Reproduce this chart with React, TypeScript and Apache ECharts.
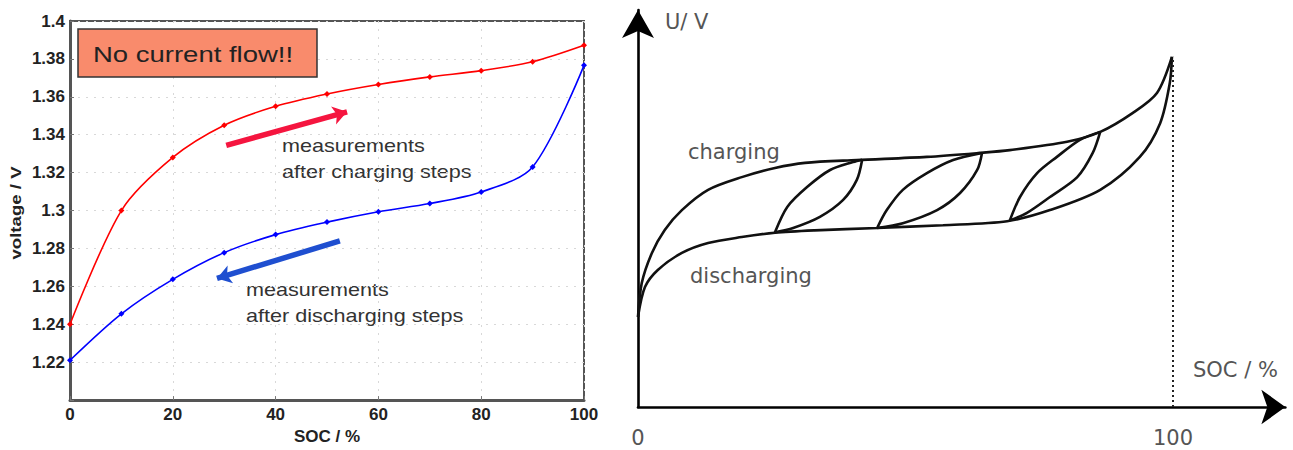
import React, { useEffect, useRef } from "react";
import * as echarts from "echarts";

// ---- Left chart: measured open-circuit voltage ----
const SOC = [0, 10, 20, 30, 40, 50, 60, 70, 80, 90, 100];
const CHARGE_V = [1.24, 1.3, 1.328, 1.345, 1.355, 1.3615, 1.3665, 1.3705, 1.3738, 1.3785, 1.3872];
const DISCHARGE_V = [1.221, 1.2455, 1.2637, 1.2778, 1.2873, 1.2939, 1.2994, 1.3037, 1.3098, 1.323, 1.3766];
const CHARGE_ARROW = [[30.4, 1.3344], [53.9, 1.3521]];
const DISCHARGE_ARROW = [[52.5, 1.284], [28.6, 1.2642]];
const Y_MIN = 1.2;
const Y_MAX = 1.4;
const Y_STEP = 0.02;
const X_STEP = 20;

// ---- Right chart: schematic hysteresis (arbitrary units) ----
const SCHEM_CHARGE = [
  [0, 22.7], [0.7, 31.2], [2.6, 38.8], [5.0, 44.6], [8.2, 49.6], [13.1, 54.7], [19.4, 57.9],
  [25.6, 60.2], [31.2, 61.5], [40.9, 62.2], [54.0, 63.0], [63.9, 64.0], [69.5, 64.7],
  [80.2, 66.8], [86.4, 69.3], [92.5, 74.1], [97.0, 79.1], [99.8, 88.2],
];
const SCHEM_DISCHARGE = [
  [0, 22.7], [1.3, 30.2], [3.7, 34.5], [8.2, 38.8], [13.1, 41.3], [19.4, 42.8], [25.6, 43.9],
  [33.0, 44.5], [44.7, 45.1], [57.0, 45.8], [69.0, 46.8], [77.0, 49.6], [86.4, 54.7],
  [93.8, 63.0], [97.6, 71.5], [99.4, 81.6], [99.8, 88.2],
];
const LOOP1_UP = [[25.6, 44.0], [27.9, 50.4], [31.6, 55.4], [35.9, 59.7], [40.2, 61.7], [41.9, 62.3]];
const LOOP1_DOWN = [[41.9, 62.3], [40.9, 57.2], [38.3, 52.1], [34.0, 47.9], [29.0, 45.1], [25.6, 44.0]];
const LOOP2_UP = [[44.7, 45.1], [46.5, 49.6], [49.5, 54.7], [54.0, 58.9], [58.9, 62.2], [64.3, 64.0]];
const LOOP2_DOWN = [[64.3, 64.0], [63.4, 59.7], [60.2, 53.9], [55.9, 49.6], [49.5, 46.3], [44.7, 45.1]];
const LOOP3_UP = [[69.5, 47.0], [71.4, 52.9], [74.6, 58.9], [78.3, 63.0], [82.6, 67.3], [86.4, 69.3]];
const LOOP3_DOWN = [[86.4, 69.3], [85.0, 64.0], [82.1, 57.9], [77.0, 52.9], [72.7, 48.9], [69.5, 47.0]];
const SCHEM_X_MAX = 121;
const SCHEM_Y_MAX = 100;
const SCHEM_TICKS = [0, 100];
const PEAK_U = 88.2;

const LEFT_FONT = "Liberation Sans";
const RIGHT_FONT = "DejaVu Sans";

export default function App() {
  const ref = useRef<HTMLDivElement>(null);

  useEffect(() => {
    if (!ref.current) return;
    const chart = echarts.init(ref.current, null, { renderer: "svg" });

    const schemLine = (data: number[][]) => ({
      type: "line",
      xAxisIndex: 1,
      yAxisIndex: 1,
      data,
      smooth: 0.3,
      showSymbol: false,
      symbol: "none",
      lineStyle: { color: "#111", width: 2.6 },
      silent: true,
      z: 3,
    });

    const option: any = {
      animation: false,
      backgroundColor: "#ffffff",
      grid: [
        { left: 70, top: 21, width: 514, height: 385, show: true, borderColor: "#555", borderWidth: 2, containLabel: false },
        { left: 638, top: 407 - SCHEM_Y_MAX * 3.97, width: SCHEM_X_MAX * 5.35, height: SCHEM_Y_MAX * 3.97, containLabel: false },
      ],
      xAxis: [
        {
          type: "value",
          gridIndex: 0,
          min: 0,
          max: 100,
          interval: X_STEP,
          name: "SOC / %",
          nameLocation: "middle",
          nameGap: 24,
          nameTextStyle: { fontSize: 17, fontWeight: "bold", color: "#222", fontFamily: LEFT_FONT },
          axisLine: { lineStyle: { color: "#555", width: 3 } },
          axisTick: { inside: true, length: 4, lineStyle: { color: "#777" } },
          axisLabel: { fontSize: 17, fontWeight: "bold", color: "#222", fontFamily: LEFT_FONT, margin: 6 },
          splitLine: { show: true, lineStyle: { color: "#d8d8d8", type: [2, 6], width: 1 } },
        },
        {
          type: "value",
          gridIndex: 1,
          min: 0,
          max: SCHEM_X_MAX,
          interval: 100,
          axisLine: {
            lineStyle: { color: "#000", width: 2.6 },
            symbol: ["none", "arrow"],
            symbolSize: [26, 24],
          },
          axisTick: { show: false },
          splitLine: { show: false },
          axisLabel: {
            formatter: (v: number) => (SCHEM_TICKS.indexOf(v) >= 0 ? String(v) : ""),
            fontSize: 21,
            color: "#555",
            fontFamily: RIGHT_FONT,
            margin: 20,
          },
        },
      ],
      yAxis: [
        {
          type: "value",
          gridIndex: 0,
          min: Y_MIN,
          max: Y_MAX,
          interval: Y_STEP,
          axisLine: { show: true, lineStyle: { color: "#555", width: 3 } },
          axisTick: { show: true, inside: true, length: 4, lineStyle: { color: "#777" } },
          axisLabel: {
            fontSize: 17,
            fontWeight: "bold",
            color: "#222",
            fontFamily: LEFT_FONT,
            margin: 5,
            formatter: (v: number) => (Math.abs(v - Y_MIN) < 1e-9 ? "" : String(parseFloat(v.toFixed(2)))),
          },
          splitLine: { show: true, lineStyle: { color: "#d8d8d8", type: [2, 6], width: 1 } },
        },
        {
          type: "value",
          gridIndex: 1,
          min: 0,
          max: SCHEM_Y_MAX,
          axisLine: {
            show: true,
            lineStyle: { color: "#000", width: 2.6 },
            symbol: ["none", "arrow"],
            symbolSize: [24, 28],
          },
          axisTick: { show: false },
          axisLabel: { show: false },
          splitLine: { show: false },
        },
      ],
      series: [
        {
          type: "line",
          xAxisIndex: 0,
          yAxisIndex: 0,
          data: SOC.map((s, i) => [s, CHARGE_V[i]]),
          smooth: 0.3,
          symbol: "diamond",
          symbolSize: 6,
          itemStyle: { color: "#ff0000" },
          lineStyle: { color: "#ff0000", width: 1.6 },
          z: 3,
        },
        {
          type: "line",
          xAxisIndex: 0,
          yAxisIndex: 0,
          data: SOC.map((s, i) => [s, DISCHARGE_V[i]]),
          smooth: 0.3,
          symbol: "diamond",
          symbolSize: 6,
          itemStyle: { color: "#0000ff" },
          lineStyle: { color: "#0000ff", width: 1.6 },
          z: 3,
        },
        {
          type: "lines",
          coordinateSystem: "cartesian2d",
          xAxisIndex: 0,
          yAxisIndex: 0,
          symbol: ["none", "arrow"],
          symbolSize: [14, 14],
          lineStyle: { color: "#f5153f", width: 5.5, opacity: 1, curveness: 0 },
          data: [{ coords: CHARGE_ARROW }],
          silent: true,
          z: 4,
        },
        {
          type: "lines",
          coordinateSystem: "cartesian2d",
          xAxisIndex: 0,
          yAxisIndex: 0,
          symbol: ["none", "arrow"],
          symbolSize: [14, 14],
          lineStyle: { color: "#1f4fd0", width: 5.5, opacity: 1, curveness: 0 },
          data: [{ coords: DISCHARGE_ARROW }],
          silent: true,
          z: 4,
        },
        {
          ...schemLine(SCHEM_CHARGE),
          markLine: {
            silent: true,
            symbol: ["none", "none"],
            label: { show: false },
            lineStyle: { color: "#222", type: [2, 3], width: 2 },
            data: [[{ coord: [100, 0] }, { coord: [100, PEAK_U] }]],
          },
        },
        schemLine(SCHEM_DISCHARGE),
        schemLine(LOOP1_UP),
        schemLine(LOOP1_DOWN),
        schemLine(LOOP2_UP),
        schemLine(LOOP2_DOWN),
        schemLine(LOOP3_UP),
        schemLine(LOOP3_DOWN),
      ],
      graphic: [
        {
          type: "rect",
          shape: { x: 78, y: 29, width: 239, height: 48 },
          style: { fill: "#f98b6c", stroke: "#333", lineWidth: 1.5 },
          z: 10,
        },
        {
          type: "text",
          x: 93,
          y: 54,
          scaleX: 1.25,
          style: { text: "No current flow!!", fontSize: 22, fontFamily: LEFT_FONT, fill: "#222", align: "left", verticalAlign: "middle" },
          z: 11,
        },
        {
          type: "text",
          x: 16,
          y: 213,
          rotation: Math.PI / 2,
          scaleX: 1.33,
          style: { text: "voltage / V", fontSize: 14, fontWeight: "bold", fontFamily: LEFT_FONT, fill: "#222", align: "center", verticalAlign: "middle" },
        },
        {
          type: "text",
          x: 282,
          y: 146,
          scaleX: 1.2,
          style: { text: "measurements", fontSize: 18, fontFamily: LEFT_FONT, fill: "#333", align: "left", verticalAlign: "middle" },
        },
        {
          type: "text",
          x: 282,
          y: 172,
          scaleX: 1.2,
          style: { text: "after charging steps", fontSize: 18, fontFamily: LEFT_FONT, fill: "#333", align: "left", verticalAlign: "middle" },
        },
        {
          type: "text",
          x: 246,
          y: 290,
          scaleX: 1.2,
          style: { text: "measurements", fontSize: 18, fontFamily: LEFT_FONT, fill: "#333", align: "left", verticalAlign: "middle" },
        },
        {
          type: "text",
          x: 246,
          y: 316,
          scaleX: 1.2,
          style: { text: "after discharging steps", fontSize: 18, fontFamily: LEFT_FONT, fill: "#333", align: "left", verticalAlign: "middle" },
        },
        {
          type: "text",
          x: 688,
          y: 152,
          style: { text: "charging", fontSize: 21, fontFamily: RIGHT_FONT, fill: "#555", align: "left", verticalAlign: "middle" },
        },
        {
          type: "text",
          x: 690,
          y: 276,
          style: { text: "discharging", fontSize: 21, fontFamily: RIGHT_FONT, fill: "#555", align: "left", verticalAlign: "middle" },
        },
        {
          type: "text",
          x: 665,
          y: 22,
          style: { text: "U/ V", fontSize: 21, fontFamily: RIGHT_FONT, fill: "#555", align: "left", verticalAlign: "middle" },
        },
        {
          type: "text",
          x: 1193,
          y: 370,
          style: { text: "SOC / %", fontSize: 21, fontFamily: RIGHT_FONT, fill: "#555", align: "left", verticalAlign: "middle" },
        },
      ],
    };

    chart.setOption(option);
    return () => {
      chart.dispose();
    };
  }, []);

  return (
    <div
      ref={ref}
      style={{ position: "fixed", left: 0, top: 0, width: 1293, height: 450, background: "#fff" }}
    />
  );
}
